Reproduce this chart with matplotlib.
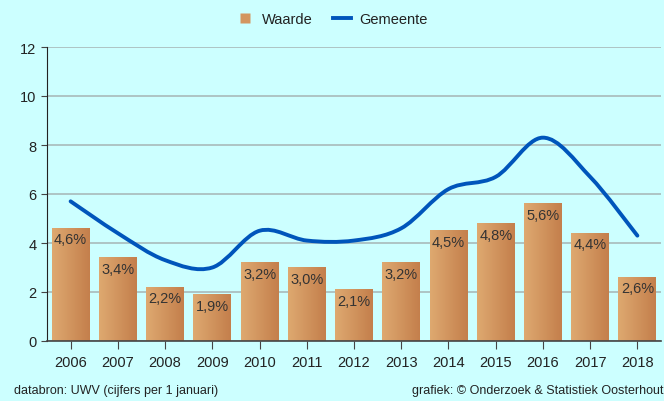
import numpy as np
import matplotlib as mpl
mpl.use('Agg')
import matplotlib.pyplot as plt
from matplotlib.path import Path
from matplotlib.patches import PathPatch
from matplotlib.lines import Line2D

plt.rcParams['font.family'] = ['Liberation Sans', 'DejaVu Sans']

years = ['2006', '2007', '2008', '2009', '2010', '2011', '2012',
         '2013', '2014', '2015', '2016', '2017', '2018']
waarde = [4.6, 3.4, 2.2, 1.9, 3.2, 3.0, 2.1, 3.2, 4.5, 4.8, 5.6, 4.4, 2.6]
gemeente = [5.7, 4.4, 3.3, 3.0, 4.5, 4.1, 4.1, 4.6, 6.2, 6.7, 8.3, 6.7, 4.3]

bg = '#ccffff'
line_col = '#0055bb'

fig = plt.figure(figsize=(6.64, 4.02), dpi=100, facecolor=bg)
ax = fig.add_axes([47 / 664, 60 / 402, 614 / 664, 294 / 402], facecolor=bg)

x = np.arange(len(years))
bars = ax.bar(x, waarde, width=0.8, color='none', zorder=2)

# horizontal gradient in each bar
grad = np.linspace(0, 1, 64).reshape(1, -1)
cmap = mpl.colors.LinearSegmentedColormap.from_list('br', ['#dea970', '#c47f4c'])
for b in bars:
    bx, by = b.get_x(), b.get_y()
    ax.imshow(grad, cmap=cmap, aspect='auto', zorder=2,
              extent=(bx, bx + b.get_width(), by, by + b.get_height()))
for xi, v in zip(x, waarde):
    ax.text(xi, v - 0.17, ('%.1f%%' % v).replace('.', ','), ha='center', va='top',
            fontsize=10.5, color='#333333', zorder=4)

# smooth line through the points (catmull-rom -> bezier)
pts = np.column_stack([x, gemeente]).astype(float)
verts = [pts[0]]
codes = [Path.MOVETO]
for i in range(len(pts) - 1):
    p0 = pts[i - 1] if i > 0 else pts[i]
    p1, p2 = pts[i], pts[i + 1]
    p3 = pts[i + 2] if i + 2 < len(pts) else pts[i + 1]
    c1 = p1 + (p2 - p0) / 6
    c2 = p2 - (p3 - p1) / 6
    verts += [c1, c2, p2]
    codes += [Path.CURVE4] * 3
ax.add_patch(PathPatch(Path(verts, codes), facecolor='none', edgecolor=line_col,
                       lw=2.8, capstyle='round', zorder=3))

ax.set_xlim(-0.5, 12.5)
ax.set_ylim(0, 12)
ax.set_yticks(range(0, 13, 2))
ax.set_xticks(x)
ax.set_xticklabels(years)
ax.grid(axis='y', color='#a8baba', lw=1.2, zorder=0)
ax.set_axisbelow(True)
for s in ['top', 'right']:
    ax.spines[s].set_visible(False)
ax.spines['left'].set_color('#222222')
ax.spines['bottom'].set_color('#444444')
ax.spines['bottom'].set_linewidth(1.2)
ax.tick_params(axis='x', length=6, color='#444444', labelsize=10.5, labelcolor='#222222', pad=4)
ax.tick_params(axis='y', length=4, color='#444444', labelsize=10.5, labelcolor='#222222')

handles = [Line2D([0], [0], marker='s', ls='none', markersize=6.5,
                  markerfacecolor='#d39660', markeredgecolor='none'),
           Line2D([0], [0], color=line_col, lw=2.8)]
fig.legend(handles, ['Waarde', 'Gemeente'], loc='upper center', bbox_to_anchor=(0.5, 1.0),
           ncol=2, frameon=False, fontsize=10.5, handlelength=1.2,
           columnspacing=1.4, handletextpad=0.6, labelcolor='#222222')

fig.text(14 / 664, 5 / 402, 'databron: UWV (cijfers per 1 januari)', fontsize=9, color='#222222', va='bottom')
fig.text(663 / 664, 5 / 402, 'grafiek: \u00a9 Onderzoek & Statistiek Oosterhout', fontsize=9,
         color='#222222', va='bottom', ha='right')

fig.savefig('out.png', dpi=100, facecolor=bg)
